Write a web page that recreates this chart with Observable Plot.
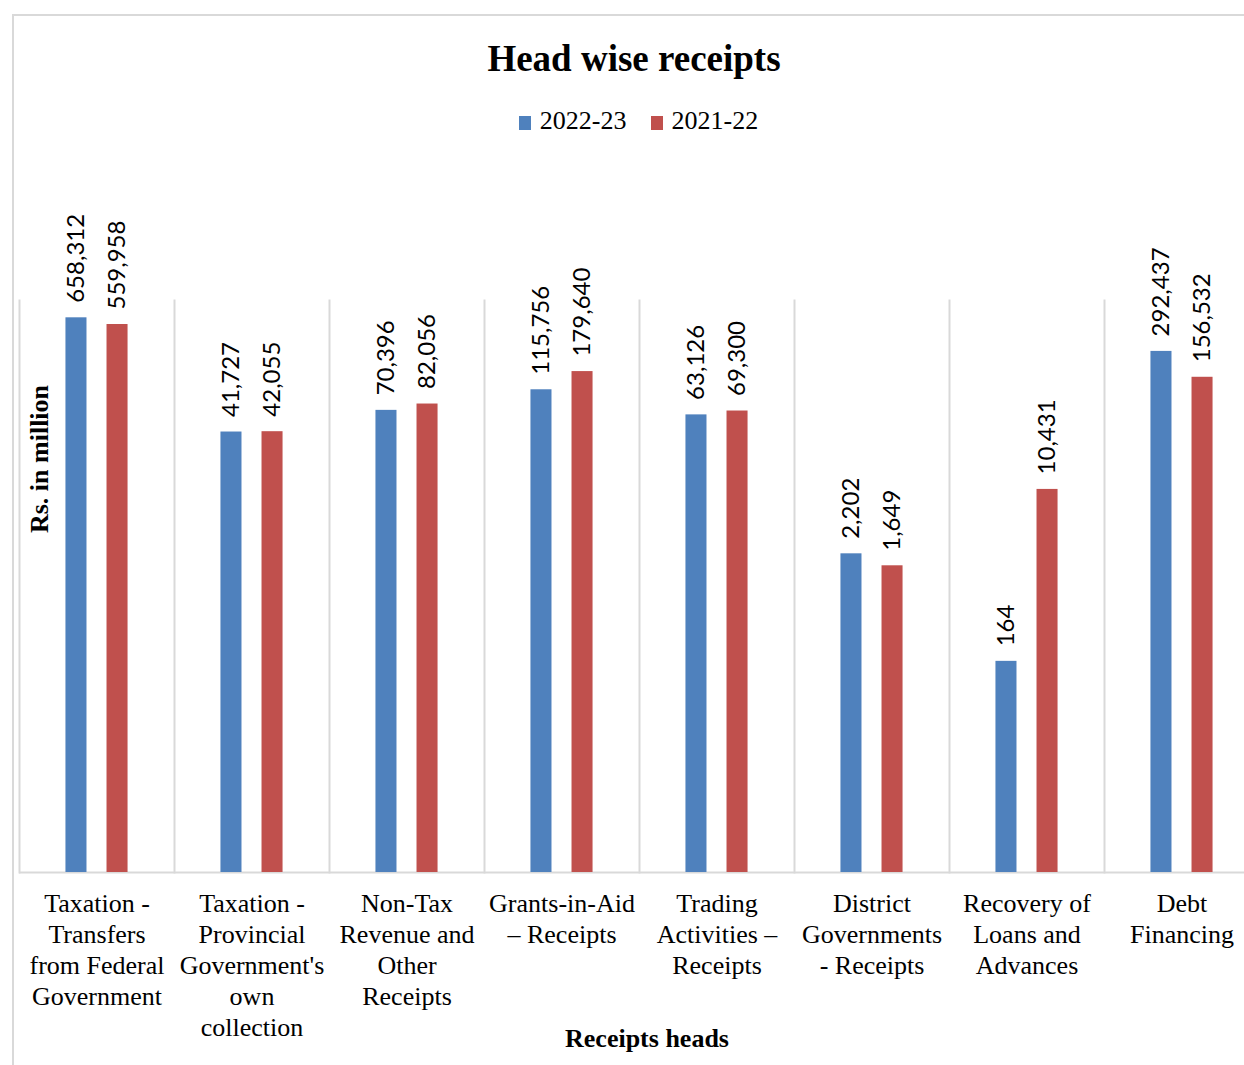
<!DOCTYPE html>
<html>
<head>
<meta charset="utf-8">
<script src="https://cdn.jsdelivr.net/npm/d3@7"></script>
<script src="https://cdn.jsdelivr.net/npm/@observablehq/plot@0.6"></script>
<style>
  html, body { margin: 0; padding: 0; background: #fff; overflow: hidden; width: 1244px; height: 1065px; }
  body { font-family: "Liberation Serif", "Times New Roman", serif; position: relative; }
  #frame { position: absolute; left: 12px; top: 14px; width: 1300px; height: 1100px; border: 2px solid #d9d9d9; }
  #title { position: absolute; left: 0; top: 40px; width: 1268px; text-align: center; font-size: 37px; font-weight: bold; line-height: 1; }
  #legend { position: absolute; left: 0; top: 108px; width: 1277px; display: flex; justify-content: center; font-size: 26px; line-height: 1; }
  .item { display: flex; align-items: center; margin: 0 12px; }
  .sw { width: 12px; height: 14px; margin-right: 9px; margin-top: 3px; }
  #ylabel { position: absolute; left: 40px; top: 459px; transform: translate(-50%, -50%) rotate(-90deg); font-size: 26px; font-weight: bold; white-space: nowrap; line-height: 1; }
  #xlabel { position: absolute; left: 0; top: 1026px; width: 1294px; text-align: center; font-size: 26px; font-weight: bold; line-height: 1; }
  #chart { position: absolute; left: 0; top: 200px; width: 1265px; }
</style>
</head>
<body>
<div id="frame"></div>
<div id="title">Head wise receipts</div>
<div id="legend"></div>
<div id="chart"></div>
<div id="ylabel">Rs. in million</div>
<div id="xlabel">Receipts heads</div>
<script>
const categories = [
  "Taxation - Transfers from Federal Government",
  "Taxation - Provincial Government's own collection",
  "Non-Tax Revenue and Other Receipts",
  "Grants-in-Aid – Receipts",
  "Trading Activities – Receipts",
  "District Governments - Receipts",
  "Recovery of Loans and Advances",
  "Debt Financing"
];
const tickLabels = [
  "Taxation -\nTransfers\nfrom Federal\nGovernment",
  "Taxation -\nProvincial\nGovernment's\nown\ncollection",
  "Non-Tax\nRevenue and\nOther\nReceipts",
  "Grants-in-Aid\n– Receipts",
  "Trading\nActivities –\nReceipts",
  "District\nGovernments\n- Receipts",
  "Recovery of\nLoans and\nAdvances",
  "Debt\nFinancing"
];
const seriesNames = ["2022-23", "2021-22"];
const values2022_23 = [658312, 41727, 70396, 115756, 63126, 2202, 164, 292437];
const values2021_22 = [559958, 42055, 82056, 179640, 69300, 1649, 10431, 156532];
const seriesColors = ["#4f81bd", "#c0504d"];

const data = categories.flatMap((c, i) => [
  {category: c, series: seriesNames[0], value: values2022_23[i]},
  {category: c, series: seriesNames[1], value: values2021_22[i]}
]);
const labelOf = new Map(categories.map((c, i) => [c, tickLabels[i]]));
const fmt = d3.format(",");

// legend
const legend = document.getElementById("legend");
seriesNames.forEach((s, i) => {
  const it = document.createElement("div");
  it.className = "item";
  it.innerHTML = `<span class="sw" style="background:${seriesColors[i]}"></span><span>${s}</span>`;
  legend.appendChild(it);
});

const chart = Plot.plot({
  width: 1265,
  height: 865,
  marginTop: 100,
  marginBottom: 193,
  marginLeft: 19,
  marginRight: 6,
  style: {fontFamily: "'Liberation Serif', 'Times New Roman', serif", background: "transparent", overflow: "visible", maxWidth: "none"},
  fx: {domain: categories, padding: 0, round: false, label: null},
  x: {domain: seriesNames, paddingInner: 0.4878, paddingOuter: 1.131, round: false, axis: null},
  y: {type: "log", domain: [1, 1e6], axis: null},
  color: {domain: seriesNames, range: seriesColors},
  marks: [
    Plot.frame({anchor: "left", stroke: "#d9d9d9", strokeWidth: 2}),
    Plot.ruleY([1], {stroke: "#d9d9d9", strokeWidth: 2}),
    Plot.barY(data, {fx: "category", x: "series", y1: 1, y2: "value", fill: "series"}),
    Plot.text(data, {fx: "category", x: "series", y: "value", text: d => fmt(d.value), rotate: -90, textAnchor: "start", dy: -15, fontSize: 24, fontFamily: "Lato, 'Open Sans', sans-serif", fill: "#000"}),
    Plot.axisFx({anchor: "bottom", tickSize: 0, tickPadding: 18, fontSize: 26, lineHeight: 1.19, tickFormat: c => labelOf.get(c), label: null, fill: "#000"})
  ]
});
document.getElementById("chart").appendChild(chart);
</script>
</body>
</html>
